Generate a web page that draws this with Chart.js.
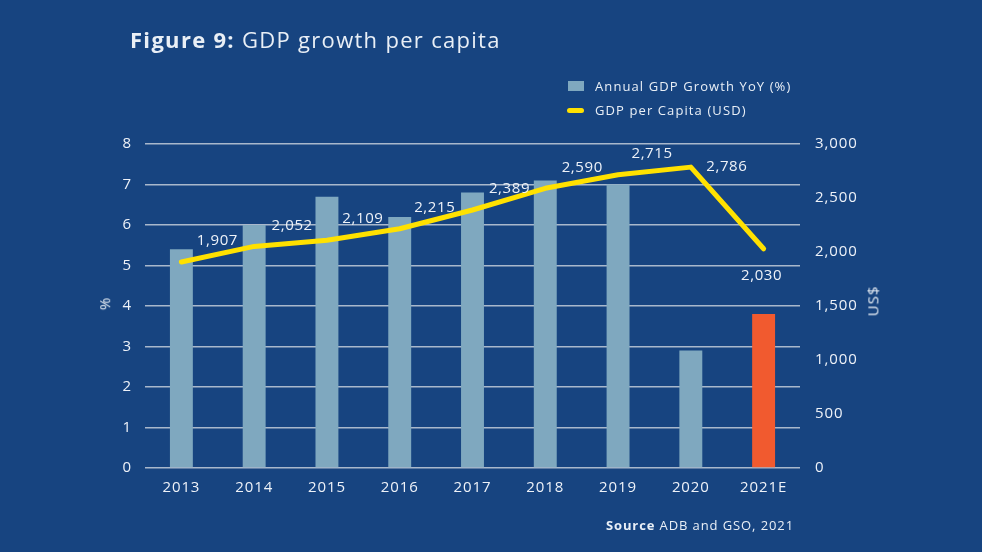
<!DOCTYPE html>
<html>
<head>
<meta charset="utf-8">
<script src="https://cdn.jsdelivr.net/npm/chart.js@4"></script>
<style>
  html, body { margin: 0; padding: 0; background: #174480; }
  #wrap { position: relative; width: 982px; height: 552px; overflow: hidden; background: #174480; font-family: "Open Sans", sans-serif; color: #E9EFF6; }
  canvas { position: absolute; left: 0; top: 0; }
  .abs { position: absolute; white-space: nowrap; }
  #title { left: 130px; top: 24px; font-size: 22px; font-weight: 400; letter-spacing: 1.3px; }
  #title b { font-weight: 700; }
  .leg { font-size: 13px; line-height: 16px; letter-spacing: 1.1px; }
  .sw { position: absolute; }
  #src { right: 188px; top: 516px; font-size: 13px; letter-spacing: 0.9px; }
  #src b { font-weight: 700; }
  .axt { font-size: 15px; }
</style>
</head>
<body>
<div id="wrap">
  <canvas id="c" width="982" height="552"></canvas>
  <div id="title" class="abs"><b>Figure 9:</b> GDP growth per capita</div>
  <div class="sw" style="left:568px; top:81px; width:16px; height:10px; background:#7FA8BF;"></div>
  <div class="abs leg" style="left:595px; top:78px;">Annual GDP Growth YoY (%)</div>
  <div class="sw" style="left:567px; top:108px; width:17px; height:5px; border-radius:3px; background:#FFE100;"></div>
  <div class="abs leg" style="left:595px; top:102px;">GDP per Capita (USD)</div>
  <div id="src" class="abs"><b>Source</b> ADB and GSO, 2021</div>
  <div class="abs axt" style="left:98px; top:294px; transform: rotate(-90deg);">%</div>
  <div class="abs axt" style="left:857px; top:291px; transform: rotate(-90deg); letter-spacing:1px;">US$</div>
</div>
<script>
const categories = ['2013', '2014', '2015', '2016', '2017', '2018', '2019', '2020', '2021E'];
const gdpGrowth = [5.4, 6.0, 6.7, 6.2, 6.8, 7.1, 7.0, 2.9, 3.8];
const gdpPerCapita = [1907, 2052, 2109, 2215, 2389, 2590, 2715, 2786, 2030];
const perCapitaLabels = ['1,907', '2,052', '2,109', '2,215', '2,389', '2,590', '2,715', '2,786', '2,030'];
const leftTicks = [0, 1, 2, 3, 4, 5, 6, 7, 8];
const rightTicks = [0, 500, 1000, 1500, 2000, 2500, 3000];

const barColors = categories.map((c, i) => i === categories.length - 1 ? '#F15A2F' : '#7FA8BF');
const labelOffsets = [[36,-21],[38,-21],[36,-21],[35,-21],[37,-21],[37,-21],[34,-21],[36,0],[-2,27]];

const spacingPlugin = {
  id: 'spacing',
  beforeDraw(chart) { chart.ctx.letterSpacing = '0.9px'; }
};

const labelPlugin = {
  id: 'lineLabels',
  afterDatasetsDraw(chart) {
    const meta = chart.getDatasetMeta(1);
    const ctx = chart.ctx;
    ctx.save();
    ctx.letterSpacing = '0.6px';
    ctx.font = '15px "Open Sans", sans-serif';
    ctx.fillStyle = '#EEF2F8';
    ctx.textAlign = 'center';
    ctx.textBaseline = 'middle';
    meta.data.forEach((pt, i) => {
      const o = labelOffsets[i];
      ctx.fillText(perCapitaLabels[i], pt.x + o[0], pt.y + o[1]);
    });
    ctx.restore();
  }
};

new Chart(document.getElementById('c'), {
  data: {
    labels: categories,
    datasets: [
      {
        type: 'bar',
        label: 'Annual GDP Growth YoY (%)',
        data: gdpGrowth,
        backgroundColor: barColors,
        yAxisID: 'y',
        barPercentage: 0.315,
        categoryPercentage: 1,
        order: 2
      },
      {
        type: 'line',
        label: 'GDP per Capita (USD)',
        data: gdpPerCapita,
        borderColor: '#FFE100',
        borderWidth: 5,
        pointRadius: 0,
        tension: 0,
        borderCapStyle: 'round',
        borderJoinStyle: 'round',
        yAxisID: 'y2',
        order: 1
      }
    ]
  },
  options: {
    responsive: false,
    animation: false,
    layout: { padding: { left: 0, right: 0, top: 144, bottom: 0 } },
    plugins: { legend: { display: false }, tooltip: { enabled: false } },
    scales: {
      x: {
        grid: { display: false, drawTicks: false },
        border: { display: false },
        ticks: { color: '#EEF2F8', font: { family: 'Open Sans', size: 15 }, padding: 11 },
        afterFit(s) { s.height = 84; }
      },
      y: {
        position: 'left',
        min: 0, max: 8,
        afterBuildTicks(s) { s.ticks = leftTicks.map(v => ({ value: v })); },
        grid: { color: '#A9B8CC', lineWidth: 1.5, drawTicks: false },
        border: { display: false },
        ticks: { color: '#EEF2F8', font: { family: 'Open Sans', size: 15 }, padding: 13 },
        afterFit(s) { s.width = 145; }
      },
      y2: {
        position: 'right',
        min: 0, max: 3000,
        afterBuildTicks(s) { s.ticks = rightTicks.map(v => ({ value: v })); },
        grid: { display: false, drawTicks: false },
        border: { display: false },
        ticks: { color: '#EEF2F8', font: { family: 'Open Sans', size: 15 }, padding: 15,
          callback: v => v.toLocaleString('en-US') },
        afterFit(s) { s.width = 182; }
      }
    }
  },
  plugins: [spacingPlugin, labelPlugin]
});
</script>
</body>
</html>
